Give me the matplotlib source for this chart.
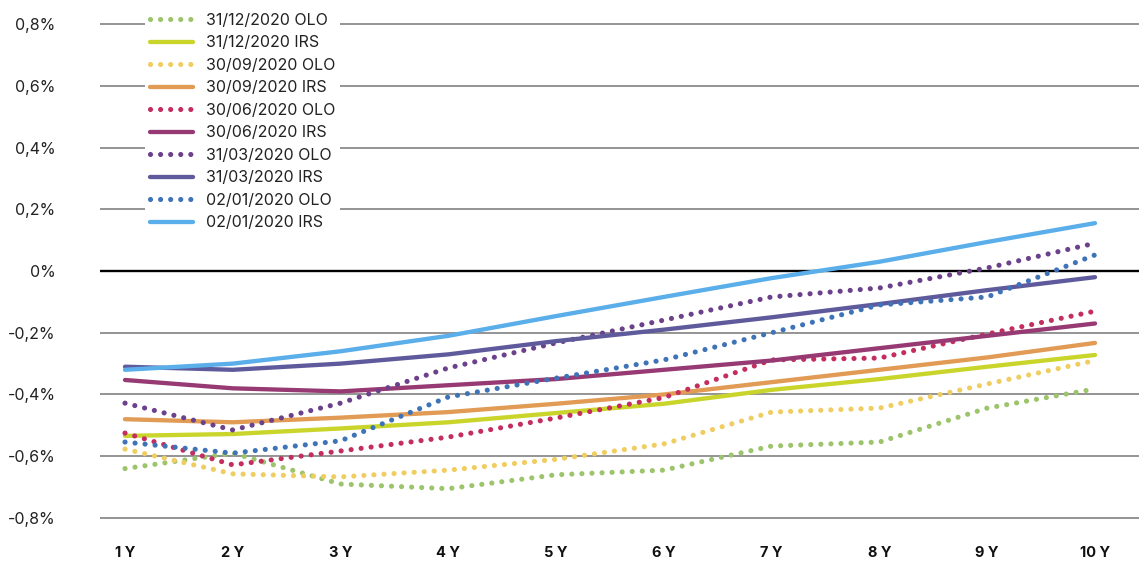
import matplotlib
matplotlib.use("Agg")
import matplotlib.pyplot as plt
from matplotlib.ticker import FuncFormatter

plt.rcParams['font.family'] = ['Inter', 'DejaVu Sans']

tenors = ['1 Y', '2 Y', '3 Y', '4 Y', '5 Y', '6 Y', '7 Y', '8 Y', '9 Y', '10 Y']

# yields in %
olo_3112 = [-0.64, -0.59, -0.69, -0.705, -0.66, -0.645, -0.567, -0.554, -0.444, -0.382]
irs_3112 = [-0.534, -0.528, -0.51, -0.49, -0.46, -0.43, -0.385, -0.35, -0.31, -0.272]
olo_3009 = [-0.577, -0.657, -0.667, -0.645, -0.61, -0.56, -0.457, -0.444, -0.366, -0.29]
irs_3009 = [-0.48, -0.49, -0.475, -0.457, -0.43, -0.40, -0.36, -0.32, -0.28, -0.233]
olo_3006 = [-0.525, -0.628, -0.583, -0.538, -0.476, -0.41, -0.288, -0.282, -0.204, -0.13]
irs_3006 = [-0.353, -0.38, -0.39, -0.37, -0.35, -0.32, -0.29, -0.25, -0.21, -0.17]
olo_3103 = [-0.428, -0.515, -0.428, -0.314, -0.233, -0.159, -0.084, -0.055, 0.01, 0.09]
irs_3103 = [-0.31, -0.32, -0.30, -0.27, -0.227, -0.19, -0.15, -0.107, -0.062, -0.02]
olo_0201 = [-0.554, -0.59, -0.55, -0.408, -0.347, -0.288, -0.20, -0.11, -0.084, 0.052]
irs_0201 = [-0.32, -0.30, -0.26, -0.21, -0.146, -0.084, -0.023, 0.03, 0.094, 0.155]

series = [
    ('31/12/2020 OLO', olo_3112, '#9cc46b', True),
    ('31/12/2020 IRS', irs_3112, '#c9d52b', False),
    ('30/09/2020 OLO', olo_3009, '#efcd60', True),
    ('30/09/2020 IRS', irs_3009, '#e19b55', False),
    ('30/06/2020 OLO', olo_3006, '#c32e5f', True),
    ('30/06/2020 IRS', irs_3006, '#973a73', False),
    ('31/03/2020 OLO', olo_3103, '#6c418b', True),
    ('31/03/2020 IRS', irs_3103, '#5f5a9b', False),
    ('02/01/2020 OLO', olo_0201, '#3f73b7', True),
    ('02/01/2020 IRS', irs_0201, '#5aaee9', False),
]

fig = plt.figure(figsize=(11.39, 5.63), dpi=100)
# axes a bit taller than the gridline span so the outer gridlines are not clipped
ax = fig.add_axes([100/1139, 43.5/563, 1039/1139, 497/563])

x = list(range(len(tenors)))
for label, vals, col, dotted in series:
    if dotted:
        ax.plot(x, vals, color=col, lw=3.7, linestyle=(0, (0.01, 1.95)),
                dash_capstyle='round', label=label, zorder=3)
    else:
        ax.plot(x, vals, color=col, lw=3.1, solid_capstyle='round',
                label=label, zorder=3)

ax.set_xlim(-0.232, 9.408)
ax.set_ylim(-0.8049, 0.8049)
ax.set_yticks([-0.8, -0.6, -0.4, -0.2, 0, 0.2, 0.4, 0.6, 0.8])
ax.yaxis.set_major_formatter(FuncFormatter(
    lambda v, p: '0%' if abs(v) < 1e-9 else ('%.1f%%' % v).replace('.', ',')))
ax.set_xticks(x)
ax.set_xticklabels(tenors, fontweight='bold', fontsize=10.5)
ax.tick_params(axis='y', length=0, pad=32, labelsize=11.5, labelcolor='#222222')
ax.tick_params(axis='x', length=0, pad=19, labelcolor='#111111')
for s in ax.spines.values():
    s.set_visible(False)
ax.grid(axis='y', color='#777777', lw=1.1, zorder=0)
ax.grid(axis='x', visible=False)
ax.axhline(0, color='black', lw=1.7, zorder=2)

leg = ax.legend(loc='upper left', bbox_to_anchor=(145/1139, 1 - 8/563),
                bbox_transform=fig.transFigure, frameon=True, framealpha=1,
                edgecolor='white', fontsize=11.5, handlelength=2.7,
                handletextpad=0.8, labelspacing=0.47, borderpad=0.3,
                borderaxespad=0)
leg.get_frame().set_linewidth(0)
for t in leg.get_texts():
    t.set_color('#222222')

fig.savefig('out.png', dpi=100)
